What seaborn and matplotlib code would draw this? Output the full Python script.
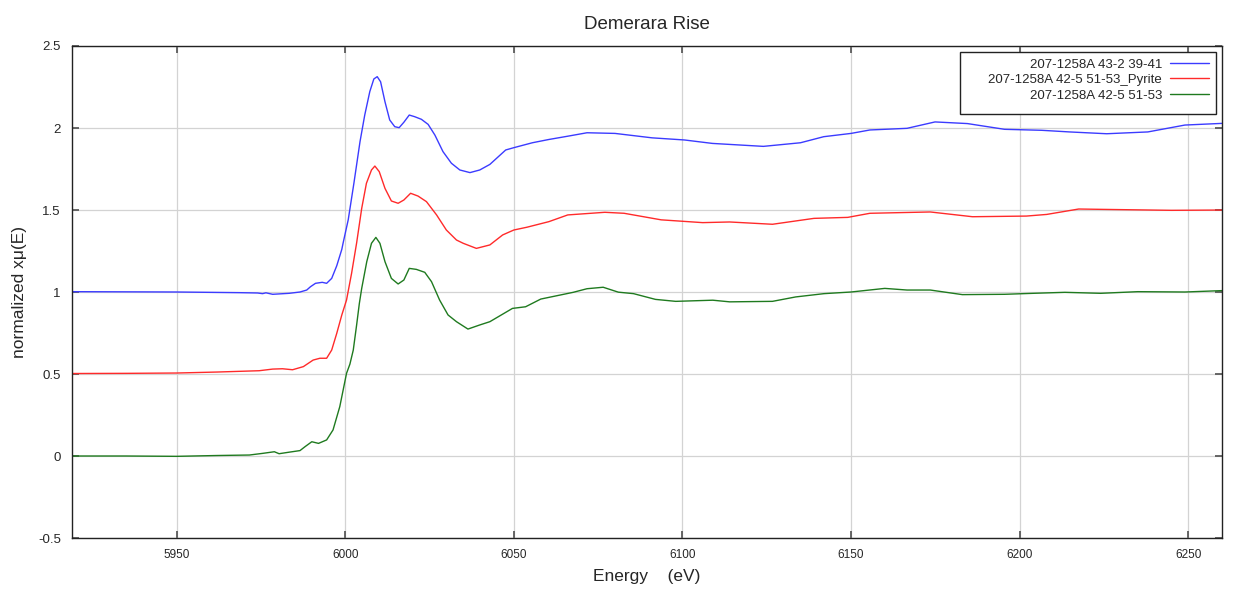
import numpy as np
import pandas as pd
import seaborn as sns
import matplotlib
matplotlib.use("Agg")
import matplotlib.pyplot as plt
from matplotlib.patches import Rectangle

# XANES spectra (normalized, vertically offset), Demerara Rise samples
labels = ["207-1258A 43-2 39-41", "207-1258A 42-5 51-53_Pyrite", "207-1258A 42-5 51-53"]
colors = ["#3b3bff", "#ff2a2a", "#1f7a1f"]

energy_a = [5919, 5935, 5950, 5968.6, 5974, 5975.5, 5976.5, 5978.5, 5983.4, 5986.6,
            5988.6, 5989.7, 5991.2, 5993.2, 5994.5, 5996.0, 5997.5, 5999.0, 5999.4, 6000.9,
            6002.6, 6004.4, 6005.8, 6007.3, 6008.5, 6009.5, 6010.5, 6011.8, 6013.2, 6014.7,
            6016.0, 6017.4, 6019.0, 6020.6, 6022.6, 6024.6, 6026.6, 6029.0, 6031.5, 6034.0,
            6037.0, 6039.9, 6042.9, 6047.6, 6050, 6055.5, 6060.4, 6066, 6071.7, 6080,
            6091, 6100.6, 6108.9, 6124, 6135, 6141.9, 6150, 6155.6, 6166.6, 6174.9,
            6184.5, 6195.5, 6206.5, 6214.8, 6225.8, 6238, 6249, 6262]
mu_a = [1.002, 1.001, 1.000, 0.996, 0.994, 0.990, 0.995, 0.986, 0.992, 1.000,
        1.012, 1.032, 1.053, 1.059, 1.053, 1.083, 1.160, 1.260, 1.300, 1.440,
        1.665, 1.917, 2.079, 2.222, 2.299, 2.313, 2.282, 2.160, 2.049, 2.008,
        2.002, 2.035, 2.079, 2.069, 2.053, 2.022, 1.957, 1.856, 1.785, 1.744,
        1.728, 1.744, 1.778, 1.866, 1.880, 1.910, 1.930, 1.950, 1.971, 1.967,
        1.940, 1.927, 1.906, 1.888, 1.910, 1.947, 1.967, 1.988, 1.998, 2.037,
        2.027, 1.992, 1.986, 1.976, 1.965, 1.976, 2.018, 2.030]

energy_b = [5919, 5935, 5950, 5962, 5974.5, 5978.5, 5981.4, 5984.4, 5987.6, 5990.5,
            5992.5, 5994.5, 5996.0, 5997.5, 5999.0, 6000.4, 6001.9, 6003.4, 6004.9, 6006.3,
            6007.8, 6008.8, 6010.1, 6011.8, 6013.7, 6015.7, 6017.4, 6019.4, 6021.6, 6024.1,
            6027.1, 6030.0, 6033.0, 6035.0, 6038.9, 6042.9, 6046.7, 6050, 6053.9, 6060.4,
            6066, 6077, 6082.7, 6093.7, 6106, 6114, 6126.7, 6139, 6149, 6155.6,
            6173.5, 6186, 6202, 6208, 6217.5, 6224, 6245, 6262]
mu_b = [0.503, 0.504, 0.506, 0.512, 0.520, 0.530, 0.532, 0.526, 0.545, 0.585,
        0.596, 0.596, 0.646, 0.748, 0.860, 0.951, 1.114, 1.300, 1.510, 1.663,
        1.744, 1.768, 1.734, 1.632, 1.555, 1.541, 1.561, 1.602, 1.585, 1.551,
        1.470, 1.378, 1.317, 1.297, 1.266, 1.287, 1.348, 1.378, 1.395, 1.429,
        1.470, 1.486, 1.480, 1.440, 1.423, 1.427, 1.413, 1.449, 1.455, 1.480,
        1.488, 1.459, 1.463, 1.473, 1.506, 1.504, 1.498, 1.500]

energy_c = [5919, 5935, 5950, 5962, 5971.6, 5975.5, 5979, 5980.4, 5983.6, 5986.6,
            5988.1, 5990.1, 5992.1, 5994.5, 5996.4, 5998.4, 6000.4, 6001.4, 6002.4, 6003.4,
            6004.2, 6004.9, 6006.4, 6007.8, 6009.1, 6010.3, 6011.8, 6013.7, 6015.7, 6017.4,
            6019.0, 6021.1, 6023.6, 6025.6, 6028.0, 6030.5, 6033.0, 6036.4, 6039.9, 6042.9,
            6049.6, 6053.5, 6058, 6067.6, 6071.7, 6076.5, 6081, 6085.5, 6092, 6098,
            6109, 6114, 6126.7, 6133.6, 6142, 6150, 6160, 6166.6, 6173.5, 6183,
            6195.5, 6204, 6213.4, 6224, 6235, 6249, 6262]
mu_c = [0.000, 0.000, -0.002, 0.003, 0.006, 0.016, 0.026, 0.014, 0.024, 0.033,
        0.057, 0.087, 0.077, 0.098, 0.159, 0.301, 0.504, 0.560, 0.646, 0.800,
        0.930, 1.022, 1.185, 1.297, 1.333, 1.297, 1.185, 1.083, 1.049, 1.073,
        1.144, 1.138, 1.120, 1.063, 0.951, 0.860, 0.819, 0.774, 0.799, 0.819,
        0.900, 0.910, 0.957, 0.998, 1.020, 1.029, 0.999, 0.990, 0.955, 0.943,
        0.950, 0.940, 0.943, 0.970, 0.990, 1.000, 1.022, 1.012, 1.012, 0.984,
        0.986, 0.992, 0.998, 0.992, 1.002, 1.000, 1.010]

x_ticks = [5950, 6000, 6050, 6100, 6150, 6200, 6250]
y_ticks = [-0.5, 0, 0.5, 1, 1.5, 2, 2.5]
y_tick_labels = ["-0.5", "0", "0.5", "1", "1.5", "2", "2.5"]

df = pd.concat([
    pd.DataFrame({"Energy": energy_a, "mu": mu_a, "sample": labels[0]}),
    pd.DataFrame({"Energy": energy_b, "mu": mu_b, "sample": labels[1]}),
    pd.DataFrame({"Energy": energy_c, "mu": mu_c, "sample": labels[2]}),
], ignore_index=True)

sns.set_theme(style="white")
plt.rcParams["font.family"] = ["Liberation Sans", "DejaVu Sans"]

fig = plt.figure(figsize=(12.33, 5.92), dpi=100)
ax = fig.add_axes([0.0584, 0.0912, 0.9327, 0.8311])

sns.lineplot(data=df, x="Energy", y="mu", hue="sample", hue_order=labels,
             palette=dict(zip(labels, colors)), estimator=None, sort=False,
             linewidth=1.0, ax=ax, legend=False)
for ln in ax.get_lines():
    ln.set_solid_joinstyle("round")

ax.set_xlim(5919, 6260)
ax.set_ylim(-0.5, 2.5)
ax.set_xticks(x_ticks)
ax.set_xticklabels([str(t) for t in x_ticks], fontsize=8.5)
ax.set_yticks(y_ticks)
ax.set_yticklabels(y_tick_labels, fontsize=9.5)
ax.grid(True, color="#d3d3d3", linewidth=0.9)
ax.tick_params(direction="in", length=5, color="#555555", top=True, right=True,
               bottom=True, left=True, pad=8)
for s in ax.spines.values():
    s.set_color("#222222")
    s.set_linewidth(1.0)

ax.set_xlabel("Energy    (eV)", fontsize=12.5, labelpad=6)
ax.set_ylabel("normalized x\u03bc(E)", fontsize=12.5, labelpad=8)
ax.set_title("Demerara Rise", fontsize=13.5, pad=12)

# legend box with right-aligned entries, line samples after the text
ax.add_patch(Rectangle((0.772, 0.862), 0.223, 0.126, transform=ax.transAxes,
                       facecolor="white", edgecolor="#222222", linewidth=1.0,
                       zorder=4))
handles = ax.get_lines()[:3]
leg = ax.legend(handles, labels, loc="upper right", bbox_to_anchor=(0.989, 0.975),
                markerfirst=False, fontsize=9.5, frameon=False,
                handlelength=3.0, handletextpad=0.6, borderpad=0,
                labelspacing=0.25, borderaxespad=0)
leg.set_zorder(5)
for t in leg.get_texts():
    t.set_ha("right")
leg._legend_box.align = "right"

fig.savefig("out.png", dpi=100)
